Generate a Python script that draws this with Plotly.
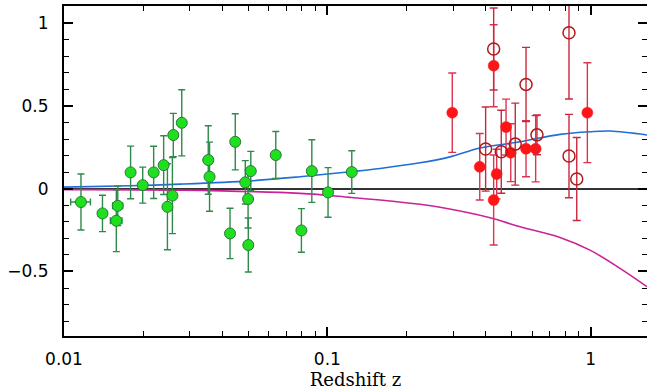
import plotly.graph_objects as go

# ---- data ----
green_z = [0.0116, 0.0140, 0.0158, 0.0160, 0.0179, 0.0199, 0.0219, 0.0239, 0.0247, 0.0258,
           0.0260, 0.0280, 0.0353, 0.0357, 0.0427, 0.0447, 0.0488, 0.0500, 0.0501, 0.0512,
           0.0637, 0.0797, 0.0873, 0.1006, 0.1238]
green_y = [-0.080, -0.149, -0.193, -0.103, 0.099, 0.022, 0.099, 0.143, -0.109, -0.041,
           0.325, 0.399, 0.174, 0.073, -0.270, 0.284, 0.039, -0.062, -0.340, 0.107,
           0.204, -0.252, 0.107, -0.022, 0.101]
green_err = [0.169, 0.110, 0.187, 0.119, 0.159, 0.109, 0.158, 0.178, 0.260, 0.230,
             0.131, 0.200, 0.207, 0.209, 0.152, 0.170, 0.131, 0.175, 0.163, 0.119,
             0.142, 0.132, 0.189, 0.150, 0.129]
green_zerr = [0.0010, 0.0005, 0.0008, 0.0007] + [None] * 21

red_z = [0.298, 0.379, 0.428, 0.428, 0.4395, 0.477, 0.497, 0.568, 0.618, 0.971]
red_y = [0.460, 0.133, -0.068, 0.744, 0.089, 0.373, 0.218, 0.242, 0.242, 0.460]
red_err = [0.240, 0.201, 0.272, 0.248, 0.150, 0.169, 0.175, 0.169, 0.200, 0.302]

open_z = [0.399, 0.428, 0.4575, 0.517, 0.568, 0.625, 0.827, 0.827, 0.885]
open_y = [0.240, 0.845, 0.224, 0.270, 0.631, 0.326, 0.943, 0.198, 0.059]
open_err = [0.254, 0.248, 0.251, 0.248, 0.224, 0.120, 0.400, 0.252, 0.251]

blue_z = [0.010, 0.0178, 0.0276, 0.0509, 0.0788, 0.1221, 0.1585, 0.2248, 0.2923, 0.3799,
          0.5389, 0.7644, 0.9938, 1.184, 1.636]
blue_y = [0.010, 0.018, 0.028, 0.048, 0.073, 0.103, 0.123, 0.157, 0.193, 0.246,
          0.284, 0.329, 0.345, 0.349, 0.325]

mag_z = [0.010, 0.0276, 0.0788, 0.1221, 0.1585, 0.2248, 0.2679, 0.4147, 0.5389, 0.7644,
         0.9938, 1.292, 1.636]
mag_y = [-0.005, -0.008, -0.028, -0.052, -0.068, -0.094, -0.112, -0.175, -0.230, -0.294,
         -0.371, -0.481, -0.592]

x_tickvals = [0.01, 0.1, 1]
x_ticktext = ["0.01", "0.1", "1"]
y_tickvals = [-0.5, 0, 0.5, 1]
y_ticktext = ["\u22120.5", "0", "0.5", "1"]

fig = go.Figure()

fig.add_trace(go.Scatter(x=blue_z, y=blue_y, mode="lines",
                         line=dict(color="#1f6fd6", width=1.6, shape="spline"),
                         hoverinfo="skip"))
fig.add_trace(go.Scatter(x=mag_z, y=mag_y, mode="lines",
                         line=dict(color="#cc2299", width=1.6, shape="spline"),
                         hoverinfo="skip"))

fig.add_trace(go.Scatter(
    x=green_z, y=green_y, mode="markers",
    marker=dict(size=11, color="#1fe01f", line=dict(color="#2a7a35", width=1)),
    error_y=dict(type="data", array=green_err, color="#2f8a4a", thickness=1.4, width=3.5),
    error_x=dict(type="data", array=green_zerr, color="#2f8a4a", thickness=1.4, width=3.5),
))

fig.add_trace(go.Scatter(
    x=red_z, y=red_y, mode="markers",
    marker=dict(size=11, color="#ff1515", line=dict(color="#ff1515", width=0.5)),
    error_y=dict(type="data", array=red_err, color="#dd3352", thickness=1.4, width=4),
))

fig.add_trace(go.Scatter(
    x=open_z, y=open_y, mode="markers",
    marker=dict(size=12, symbol="circle-open", color="#b01a1a", line=dict(width=1.5)),
    error_y=dict(type="data", array=open_err, color="#c8283c", thickness=1.4, width=4),
))

axis_common = dict(
    showline=True, linecolor="black", linewidth=2, mirror="allticks",
    ticks="inside", tickcolor="black", tickwidth=1.5, ticklen=9,
    showgrid=False, automargin=False,
    tickfont=dict(family="DejaVu Sans", size=17, color="black"),
)

fig.update_xaxes(
    type="log", range=[-2, 0.2137],
    tickvals=x_tickvals, ticktext=x_ticktext,
    minor=dict(ticks="inside", ticklen=5, tickwidth=1.2, tickcolor="black",
               tickvals=[m * 10 ** e for e in (-2, -1, 0) for m in range(2, 10)]),
    ticklabelstandoff=7,
    title=dict(text="Redshift z", font=dict(family="DejaVu Serif", size=18, color="black"),
               standoff=1),
    **axis_common,
)
fig.update_yaxes(
    range=[-0.89, 1.105],
    tickvals=y_tickvals, ticktext=y_ticktext,
    minor=dict(ticks="inside", ticklen=5, tickwidth=1.2, tickcolor="black", dtick=0.1),
    zeroline=True, zerolinecolor="#333333", zerolinewidth=2,
    ticklabelstandoff=10,
    **axis_common,
)

fig.update_layout(
    width=647, height=392,
    margin=dict(l=64, r=0, t=6, b=56, autoexpand=False),
    paper_bgcolor="white", plot_bgcolor="white",
    showlegend=False,
)

fig.write_html("out.html", config={"displayModeBar": False},
               post_script="document.body.style.margin='0';document.body.style.overflow='hidden';")
